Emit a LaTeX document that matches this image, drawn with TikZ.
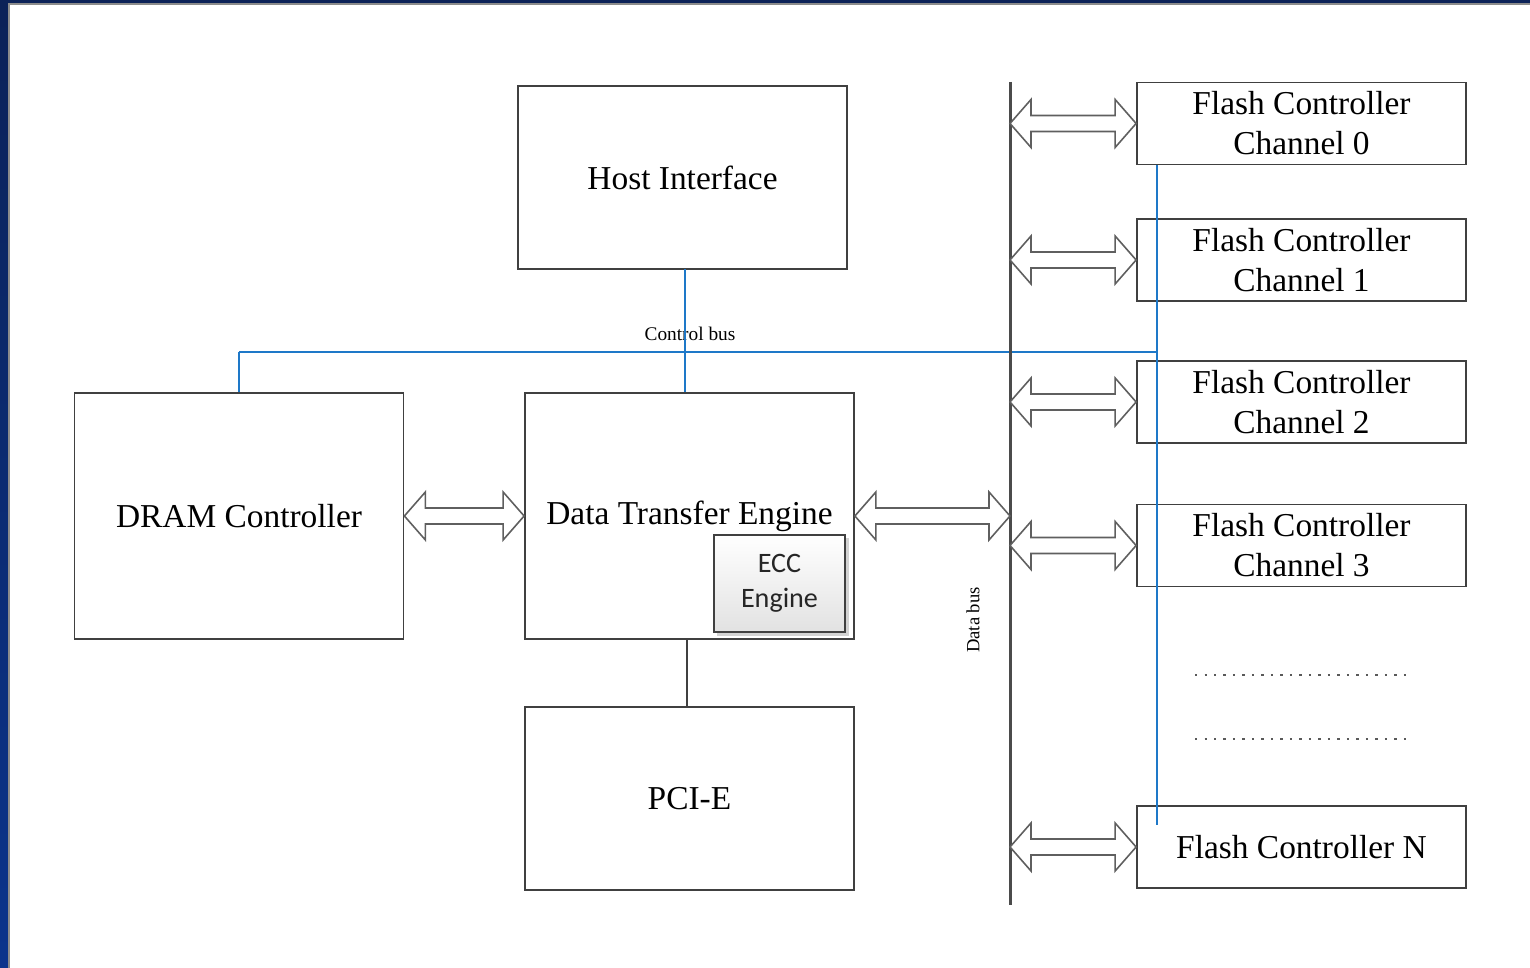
\documentclass[tikz,border=0pt]{standalone}
\usepackage{fontspec}
\setmainfont{Liberation Serif}
\newfontfamily\eccfont{Carlito}
\usetikzlibrary{calc,shadows}
\definecolor{frame_top}{RGB}{12,34,88}
\definecolor{frame_bot}{RGB}{12,52,140}
\definecolor{box_gray}{RGB}{64,64,64}
\definecolor{bus_gray}{RGB}{75,75,75}
\definecolor{arrow_gray}{RGB}{95,95,95}
\definecolor{ctrl_blue}{RGB}{30,120,200}
\definecolor{ecc_bot}{RGB}{226,226,226}
\newcommand\biarrow[2]{%
  \filldraw[busarrow] let \p1=(#1), \p2=(#2) in
    (\x1,\y1) -- (\x1+0.21cm,\y1+0.24cm) -- (\x1+0.21cm,\y1+0.08cm)
    -- (\x2-0.21cm,\y1+0.08cm) -- (\x2-0.21cm,\y1+0.24cm) -- (\x2,\y1)
    -- (\x2-0.21cm,\y1-0.24cm) -- (\x2-0.21cm,\y1-0.08cm)
    -- (\x1+0.21cm,\y1-0.08cm) -- (\x1+0.21cm,\y1-0.24cm) -- cycle;}

\begin{document}
\begin{tikzpicture}[x=0.01cm,y=-0.01cm,font=\fontsize{9.5}{11.4}\selectfont]
    \tikzstyle{block}=[draw=box_gray, line width=0.45pt, minimum width=3.29cm, align=center, inner sep=0pt, text=black]
    \tikzstyle{flash}=[style=block, minimum height=0.82cm]
    \tikzstyle{ecc}=[draw=box_gray, line width=0.45pt, top color=white, bottom color=ecc_bot, minimum width=1.31cm, minimum height=0.97cm, align=center, inner sep=0pt, font=\fontsize{8}{10}\eccfont, text=black!85, drop shadow={shadow xshift=1pt, shadow yshift=-1pt, fill=black!35}]
    \tikzstyle{ctrl}=[draw=ctrl_blue, line width=0.45pt]
    \tikzstyle{databus}=[draw=bus_gray, line width=0.85pt]
    \tikzstyle{busarrow}=[draw=arrow_gray, fill=white, line width=0.45pt, line join=miter]
    \tikzstyle{dots}=[draw=black!65, line width=0.7pt, dash pattern=on 0.7pt off 2pt]

    \useasboundingbox (0,0) rectangle (1530,968);
    \shade[top color=frame_top, bottom color=frame_bot] (0,0) rectangle (1530,968);
    \filldraw[fill=white, draw=black!45, line width=0.6pt] (9,4) rectangle (1540,980);

    \node[block, minimum height=1.83cm] (host) at (682.5,177.5) {Host Interface};
    \node[block, minimum height=2.46cm] (dram) at (239,516)     {DRAM Controller};
    \node[block, minimum height=2.46cm] (dte)  at (689.5,516)   {Data Transfer Engine};
    \node[ecc]                          (ecc)  at (779.5,583.5) {ECC\\Engine};
    \node[block, minimum height=1.83cm] (pcie) at (689.5,798.5) {PCI-E};

    \node[flash] (f0) at (1301.5,123.5) {Flash Controller\\Channel 0};
    \node[flash] (f1) at (1301.5,260)   {Flash Controller\\Channel 1};
    \node[flash] (f2) at (1301.5,402)   {Flash Controller\\Channel 2};
    \node[flash] (f3) at (1301.5,545.5) {Flash Controller\\Channel 3};
    \node[flash] (fn) at (1301.5,847)   {Flash Controller N};

    \coordinate (dbtop) at (1010,82);
    \coordinate (dbbot) at (1010,905);
    \coordinate (ctop)  at (1157,165);
    \coordinate (cbus)  at (1157,352);
    \coordinate (cbot)  at (1157,825);
    \coordinate (hdrop) at (685,269);
    \coordinate (pdrop) at (687,639);

    \node[font=\fontsize{5.5}{6}\selectfont] (cblabel) at (690,334) {Control bus};
    \node[font=\fontsize{5.3}{6}\selectfont, rotate=90] (dblabel) at (973,620) {Data bus};

    \path[ctrl]
     (dram.north) edge (dram.north |- cbus)
     (dram.north |- cbus) edge (cbus)
     (hdrop) edge (hdrop |- dte.north)
     (ctop) edge (cbot)
     ;
    \draw[box_gray, line width=0.45pt] (pdrop) -- (pdrop |- pcie.north);
    \draw[databus] (dbtop) -- (dbbot);

    \biarrow{dram.east}{dte.west}
    \biarrow{dte.east}{dte.east -| dbtop}
    \biarrow{f0.west -| dbtop}{f0.west}
    \biarrow{f1.west -| dbtop}{f1.west}
    \biarrow{f2.west -| dbtop}{f2.west}
    \biarrow{f3.west -| dbtop}{f3.west}
    \biarrow{fn.west -| dbtop}{fn.west}

    \draw[dots] (1195,675) -- (1407,675);
    \draw[dots] (1195,739) -- (1407,739);
\end{tikzpicture}
\end{document}
